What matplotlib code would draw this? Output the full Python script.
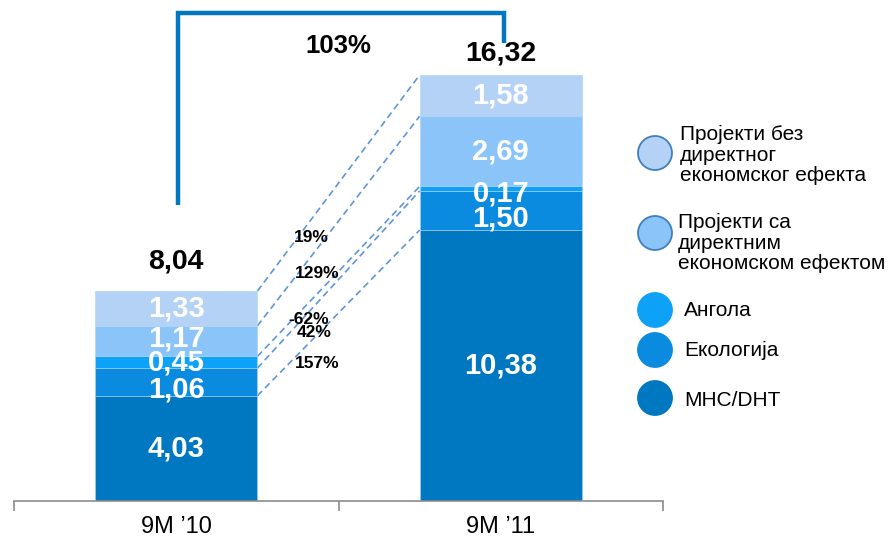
#!/usr/bin/env python3
import numpy as np
import matplotlib
matplotlib.use("Agg")
from matplotlib import pyplot as plt
from matplotlib.patches import Ellipse

plt.rcParams['font.family'] = ['Liberation Sans', 'DejaVu Sans']

# data
periods = ["9M \u201910", "9M \u201911"]
segments = ["МНС/DHT", "Екологија", "Ангола",
            "Пројекти са\nдиректним\nекономском ефектом",
            "Пројекти без\nдиректног\nекономског ефекта"]
values_10 = [4.03, 1.06, 0.45, 1.17, 1.33]
values_11 = [10.38, 1.50, 0.17, 2.69, 1.58]
totals = [8.04, 16.32]
growth = ["157%", "42%", "-62%", "129%", "19%"]
total_growth = "103%"

colors = ["#0077C1", "#0A8BE0", "#0DA2F7", "#8AC4F8", "#B3D2F5"]
blue = "#0077C1"

fig = plt.figure(figsize=(8.93, 5.40), dpi=100)
ax = fig.add_axes([14/893, 39/540, 649/893, 501/540])

x = np.arange(len(periods))
bar_w = 0.5
data = np.array([values_10, values_11])
bottoms = np.zeros(len(periods))
for i, seg in enumerate(segments):
    ax.bar(x, data[:, i], bar_w, bottom=bottoms, color=colors[i],
           edgecolor="#A9D3F5", linewidth=0.4, zorder=2)
    bottoms += data[:, i]

# value labels inside segments (small nudges where labels crowd)
nudge = [[0, -0.3, 0, 0.1, 0], [0, -0.3, -0.2, 0, 0]]
cum = np.cumsum(data, axis=1)
for b in range(len(periods)):
    for i in range(len(segments)):
        mid = cum[b, i] - data[b, i] / 2 + nudge[b][i]
        ax.text(x[b], mid, f"{data[b, i]:.2f}".replace(".", ","),
                ha="center", va="center", color="white", fontsize=21,
                fontweight="bold", zorder=4)

# totals on top
tot_off = [17, 9]
for b in range(len(periods)):
    ax.annotate(f"{totals[b]:.2f}".replace(".", ","), (x[b], cum[b, -1]),
                xytext=(0, tot_off[b]), textcoords="offset pixels",
                ha="center", va="bottom", fontsize=20.5, fontweight="bold")

# dashed connectors between segment tops
for i in range(len(segments)):
    ax.plot([x[0] + bar_w / 2, x[1] - bar_w / 2], [cum[0, i], cum[1, i]],
            ls=(0, (4, 2.5)), color="#5E96DA", lw=1.2, zorder=1)

# growth labels
gx = [0.434, 0.424, 0.409, 0.434, 0.415]
gy = [5.25, 6.44, 6.97, 8.70, 10.08]
for i, g in enumerate(growth):
    ax.text(gx[i], gy[i], g, ha="center", va="center", fontsize=12.5,
            fontweight="bold", zorder=5)

# bracket with total growth
ax.plot([x[0] + 0.005, x[0] + 0.005, x[1] + 0.01, x[1] + 0.01],
        [11.34, 18.7, 18.7, 17.55], color=blue, lw=3.2,
        solid_capstyle="butt", solid_joinstyle="miter", clip_on=False)
ax.text(0.5, 17.45, total_growth, ha="center", va="center",
        fontsize=18.5, fontweight="bold")

ax.set_xlim(-0.5, 1.5)
ax.set_ylim(0, 501 / 26.1)
for s in ["top", "right", "left"]:
    ax.spines[s].set_visible(False)
ax.spines["bottom"].set_color("#8C8C8C")
ax.spines["bottom"].set_linewidth(1.2)
ax.set_yticks([])
ax.set_xticks(x)
ax.set_xticklabels(periods, fontsize=17)
ax.tick_params(axis="x", which="major", length=0, pad=11)
ax.set_xticks([-0.5, 0.5, 1.5], minor=True)
ax.tick_params(axis="x", which="minor", length=7, color="#8C8C8C", width=1.2)

# legend drawn by hand
leg_y = [398, 350, 310, 233, 153]
txt_y = [400, 350, 310, 243, 155]
txt_x = [684, 684, 684, 678, 680]
for i, seg in enumerate(segments):
    ec = "#3F7FC0" if i >= 3 else colors[i]
    fig.add_artist(Ellipse((655 / 893, 1 - leg_y[i] / 540), 34 / 893, 34 / 540,
                           transform=fig.transFigure, facecolor=colors[i],
                           edgecolor=ec, lw=1.3))
    fig.text(txt_x[i] / 893, 1 - txt_y[i] / 540, seg, ha="left", va="center",
             fontsize=15, linespacing=1.13)

fig.savefig("out.png", dpi=100)
